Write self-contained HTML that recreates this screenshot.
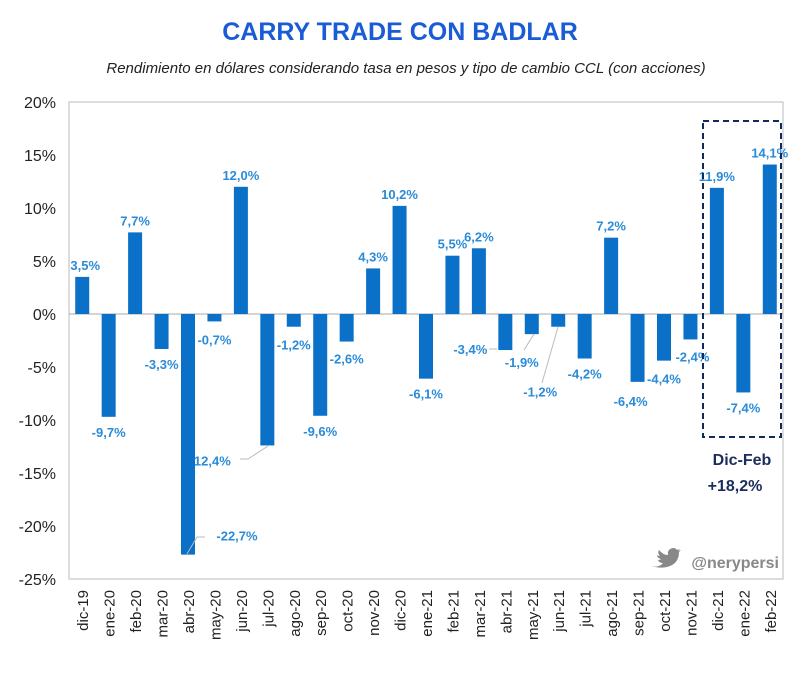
<!DOCTYPE html>
<html><head><meta charset="utf-8">
<style>
body{margin:0;background:#fff;width:800px;height:668px;overflow:hidden;font-family:"Liberation Sans",sans-serif}
</style></head>
<body>
<svg id="chart" width="800" height="668" xmlns="http://www.w3.org/2000/svg">
<text x="400" y="40" text-anchor="middle" font-size="25" font-weight="bold" fill="#1a5bd6">CARRY TRADE CON BADLAR</text>
<text x="406" y="73" text-anchor="middle" font-size="15" font-style="italic" fill="#222">Rendimiento en dólares considerando tasa en pesos y tipo de cambio CCL (con acciones)</text>
<rect x="69" y="102" width="714" height="477" fill="none" stroke="#bbb" stroke-width="1"/>
<g id="yaxis"></g>
<g id="xaxis"></g>
<line id="zero" stroke="#aaa" stroke-width="1"/>
<g id="bars"></g>
<g id="labels"></g>
<rect x="703" y="121" width="78" height="316" fill="none" stroke="#12295e" stroke-width="2" stroke-dasharray="6,4"/>
<text x="742" y="465" text-anchor="middle" font-size="16" font-weight="bold" fill="#1b2d5c">Dic-Feb</text>
<text x="735" y="491" text-anchor="middle" font-size="16" font-weight="bold" fill="#1b2d5c">+18,2%</text>
<g>
<path transform="translate(-10,12)" d="M660 553 q8 4 13 -2 q-4 0 -5 -3 q2 0 3 -1 q-4 -1 -4 -4 q1 1 3 1 q-3 -3 -1 -6 q4 5 9 5 q-1 -6 5 -7 q3 0 4 2 l3 -1 l-2 2 l3 -1 l-2 2 q0 12 -12 15 q-9 2 -17 -2z" fill="#888"/>
<text x="779" y="568" text-anchor="end" font-size="16" font-weight="bold" fill="#888">@nerypersi</text>
</g>
</svg>
<script>
const categories=["dic-19","ene-20","feb-20","mar-20","abr-20","may-20","jun-20","jul-20","ago-20","sep-20","oct-20","nov-20","dic-20","ene-21","feb-21","mar-21","abr-21","may-21","jun-21","jul-21","ago-21","sep-21","oct-21","nov-21","dic-21","ene-22","feb-22"];
const values=[3.5,-9.7,7.7,-3.3,-22.7,-0.7,12.0,-12.4,-1.2,-9.6,-2.6,4.3,10.2,-6.1,5.5,6.2,-3.4,-1.9,-1.2,-4.2,7.2,-6.4,-4.4,-2.4,11.9,-7.4,14.1];
const valueLabels=["3,5%","-9,7%","7,7%","-3,3%","-22,7%","-0,7%","12,0%","12,4%","-1,2%","-9,6%","-2,6%","4,3%","10,2%","-6,1%","5,5%","6,2%","-3,4%","-1,9%","-1,2%","-4,2%","7,2%","-6,4%","-4,4%","-2,4%","11,9%","-7,4%","14,1%"];
const yTicks=[20,15,10,5,0,-5,-10,-15,-20,-25];
const yTickLabels=["20%","15%","10%","5%","0%","-5%","-10%","-15%","-20%","-25%"];
// label offsets (layout, px) relative to default label position
const labelDx=[3,0,0,0,49,0,0,-55,0,0,0,0,0,0,0,0,-35,-10,-18,0,0,-7,0,2,0,0,0];
const labelDy=[0,0,0,0,-34,3,0,0,3,0,2,0,0,0,0,0,-16,13,50,0,0,4,3,2,0,0,0];
const leaders={4:[[187,554],[197,537],[205,537]],7:[[268,446],[248,459],[240,459]],16:[[489,349],[497,349]],17:[[534,334],[524,350]],18:[[558,327],[542,383]]};

const NS="http://www.w3.org/2000/svg";
const svg=document.getElementById('chart');
const X0=69,X1=783,Y0=102,Y1=579,YMAX=20,YMIN=-25;
const y=v=>Y0+(YMAX-v)/(YMAX-YMIN)*(Y1-Y0);
const step=(X1-X0)/categories.length;
const xc=i=>X0+step*(i+0.5);
function mk(tag,attrs,parent,txt){const e=document.createElementNS(NS,tag);for(const k in attrs)e.setAttribute(k,attrs[k]);if(txt!==undefined)e.textContent=txt;parent.appendChild(e);return e;}
const ya=document.getElementById('yaxis');
yTicks.forEach((t,i)=>{const e=mk('text',{x:56,y:y(t)+6,'text-anchor':'end','font-size':16,fill:'#222'},ya,yTickLabels[i]);

});
const z=document.getElementById('zero');z.setAttribute('x1',X0);z.setAttribute('x2',X1);z.setAttribute('y1',y(0));z.setAttribute('y2',y(0));
const xa=document.getElementById('xaxis');
categories.forEach((c,i)=>{const e=mk('text',{transform:`translate(${xc(i)+6},590) rotate(-90)`,'text-anchor':'end','font-size':15,fill:'#222'},xa,c);

});
const bg=document.getElementById('bars'),lg=document.getElementById('labels');
values.forEach((v,i)=>{const top=y(Math.max(v,0)),h=Math.abs(y(v)-y(0));
const b=mk('rect',{x:xc(i)-7,y:top,width:14,height:h,fill:'#0a70c8'},bg);


const ly=v>=0?y(v)-7:y(v)+20;
const t=mk('text',{x:xc(i)+labelDx[i],y:ly+labelDy[i],'text-anchor':'middle','font-size':13,'font-weight':'bold',fill:'#2a8bd8'},lg,valueLabels[i]);


if(leaders[i]){const p=mk('polyline',{points:leaders[i].map(q=>q.join(',')).join(' '),fill:'none',stroke:'#bbb','stroke-width':1},lg);

}
});
</script>
</body></html>
